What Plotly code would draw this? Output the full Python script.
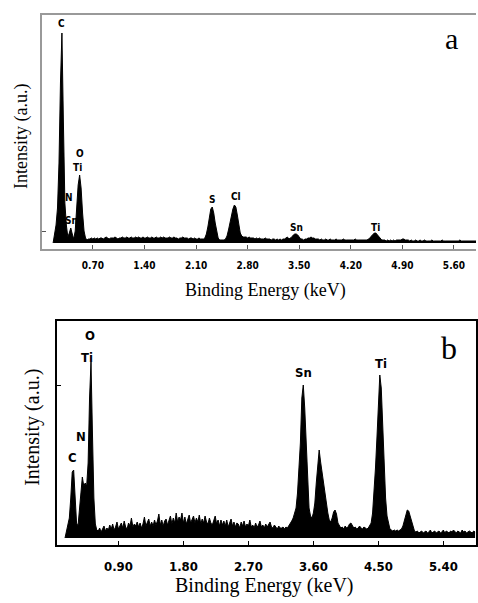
import plotly.graph_objects as go

W, H = 478, 603

# ---------------- Panel a : EDX spectrum (counts in arbitrary units) ----------------
start_a = 0.16
step_a = 0.02
counts_a = [
    0, 8, 18, 35, 80, 160, 210, 120, 40, 18,        # 0.16-0.34
    6, 10, 15, 9, 4, 12, 35, 58, 68, 55,            # 0.36-0.54
    30, 12, 5, 3, 4, 4, 5, 4, 5, 4,                 # 0.56-0.74
    5, 4, 5, 5, 4, 5, 6, 5, 4, 5,                   # 0.76-0.94
    5, 5, 6, 5, 4, 5, 5, 6, 5, 5,                   # 0.96-1.14
    6, 5, 5, 6, 5, 5, 6, 5, 6, 5,                   # 1.16-1.34
    5, 6, 5, 5, 6, 5, 5, 6, 5, 5,                   # 1.36-1.54
    6, 5, 5, 6, 5, 6, 5, 5, 5, 6,                   # 1.56-1.74
    5, 5, 6, 5, 5, 4, 5, 5, 6, 5,                   # 1.76-1.94
    5, 5, 4, 5, 5, 4, 5, 4, 4, 5,                   # 1.96-2.14
    4, 4, 4, 5, 9, 16, 26, 34, 36, 30,              # 2.16-2.34
    20, 11, 5, 3, 3, 3, 3, 4, 7, 13,                # 2.36-2.54
    20, 28, 34, 38, 36, 28, 18, 10, 7, 6,           # 2.56-2.74
    6, 6, 5, 6, 5, 5, 5, 4, 5, 4,                   # 2.76-2.94
    5, 4, 4, 4, 5, 4, 4, 4, 3, 4,                   # 2.96-3.14
    4, 3, 4, 3, 4, 3, 4, 4, 5, 6,                   # 3.16-3.34
    4, 5, 6, 8, 9, 9, 8, 6, 4, 4,                   # 3.36-3.54
    3, 4, 4, 5, 5, 6, 5, 5, 4, 4,                   # 3.56-3.74
    4, 3, 4, 3, 3, 4, 3, 3, 4, 3,                   # 3.76-3.94
    3, 3, 4, 3, 3, 3, 3, 4, 3, 3,                   # 3.96-4.14
    3, 3, 3, 3, 3, 4, 3, 3, 3, 3,                   # 4.16-4.34
    3, 3, 3, 3, 4, 5, 7, 9, 10, 10,                 # 4.36-4.54
    8, 6, 4, 3, 3, 3, 2, 3, 2, 3,                   # 4.56-4.74
    2, 3, 2, 3, 3, 3, 3, 4, 4, 3,                   # 4.76-4.94
    3, 3, 2, 3, 2, 2, 3, 2, 2, 3,                   # 4.96-5.14
    2, 2, 3, 2, 2, 2, 2, 3, 2, 2,                   # 5.16-5.34
    2, 2, 2, 2, 3, 2, 2, 2, 2, 2,                   # 5.36-5.54
    2, 2, 2, 2, 2, 2, 3, 2, 2, 2,                   # 5.56-5.74
    2, 2, 2, 2, 2, 2, 2, 2,                         # 5.76-5.90
]
energy_a = [round(start_a + step_a * i, 2) for i in range(len(counts_a))]

# ---------------- Panel b ----------------
start_b = 0.16
step_b = 0.02
counts_b = [
    0, 8, 12, 20, 40, 66, 68, 38, 15, 12,           # 0.16-0.34
    30, 50, 61, 52, 55, 52, 75, 140, 176, 105,      # 0.36-0.54
    40, 14, 8, 7, 10, 6, 9, 12, 7, 10,              # 0.56-0.74
    8, 13, 9, 14, 8, 11, 16, 9, 12, 15,             # 0.76-0.94
    10, 17, 11, 9, 15, 12, 20, 11, 14, 12,          # 0.96-1.14
    16, 11, 15, 10, 14, 21, 12, 15, 19, 12,         # 1.16-1.34
    16, 12, 18, 13, 17, 24, 13, 18, 12, 17,         # 1.36-1.54
    19, 13, 17, 22, 14, 20, 15, 25, 16, 21,         # 1.56-1.74
    18, 25, 15, 21, 14, 20, 23, 15, 19, 22,         # 1.76-1.94
    15, 20, 16, 23, 14, 19, 15, 22, 16, 14,         # 1.96-2.14
    20, 15, 13, 19, 22, 14, 18, 12, 18, 13,         # 2.16-2.34
    17, 12, 18, 11, 15, 19, 12, 16, 11, 15,         # 2.36-2.54
    14, 10, 16, 12, 17, 11, 14, 12, 18, 11,         # 2.56-2.74
    13, 10, 15, 11, 13, 17, 11, 13, 10, 14,         # 2.76-2.94
    11, 13, 16, 11, 10, 13, 11, 9, 12, 10,          # 2.96-3.14
    10, 11, 9, 11, 10, 12, 14, 17, 20, 24,          # 3.16-3.34
    30, 45, 65, 95, 140, 153, 130, 90, 55, 30,      # 3.36-3.54
    22, 20, 25, 35, 55, 70, 88, 76, 65, 55,         # 3.56-3.74
    45, 35, 25, 18, 16, 20, 26, 28, 24, 15,         # 3.76-3.94
    12, 10, 11, 9, 12, 10, 11, 14, 15, 12,          # 3.96-4.14
    10, 11, 9, 10, 12, 10, 9, 11, 10, 9,            # 4.16-4.34
    10, 12, 15, 25, 45, 70, 100, 140, 163, 150,     # 4.36-4.54
    110, 70, 40, 22, 14, 9, 8, 7, 8, 7,             # 4.56-4.74
    8, 7, 8, 9, 12, 18, 24, 28, 27, 22,             # 4.76-4.94
    15, 10, 7, 6, 7, 5, 6, 7, 5, 6,                 # 4.96-5.14
    7, 5, 6, 8, 5, 6, 7, 5, 6, 7,                   # 5.16-5.34
    5, 6, 8, 5, 7, 6, 5, 7, 6, 8,                   # 5.36-5.54
    6, 5, 7, 6, 5, 8, 6, 7, 5, 6,                   # 5.56-5.74
    7, 6, 5, 7, 6,                                  # 5.76-5.84
]
energy_b = [round(start_b + step_b * i, 2) for i in range(len(counts_b))]

tick_vals_a = [0.70, 1.40, 2.10, 2.80, 3.50, 4.20, 4.90, 5.60]
tick_text_a = ["0.70", "1.40", "2.10", "2.80", "3.50", "4.20", "4.90", "5.60"]
tick_vals_b = [0.90, 1.80, 2.70, 3.60, 4.50, 5.40]
tick_text_b = ["0.90", "1.80", "2.70", "3.60", "4.50", "5.40"]

# peak labels: (text, energy, height)
labels_a_text = ["C", "N", "Sn", "O", "Ti", "S", "Cl", "Sn", "Ti"]
labels_a_x = [0.277, 0.37, 0.41, 0.52, 0.49, 2.32, 2.64, 3.46, 4.53]
labels_a_y = [220, 46, 23, 90, 76, 44, 47, 16, 16]
labels_b_text = ["O", "Ti", "N", "C", "Sn", "Ti"]
labels_b_x = [0.50, 0.46, 0.38, 0.27, 3.46, 4.53]
labels_b_y = [203, 181, 102, 81, 166, 175]

SERIF = "Liberation Serif, Times New Roman, DejaVu Serif, serif"
NARROW = "Liberation Sans Narrow, DejaVu Sans Condensed, Liberation Sans"


def px_x(p):
    return p / W


def px_y(p):
    return 1 - p / H


def small_font(size):
    return dict(family=NARROW, size=size, color="black", weight="bold")


fig = go.Figure()
fig.add_trace(go.Scatter(x=energy_a, y=counts_a, mode="lines",
                         line=dict(color="black", width=1),
                         fill="tozeroy", fillcolor="black",
                         xaxis="x", yaxis="y", showlegend=False,
                         hoverinfo="skip"))
fig.add_trace(go.Scatter(x=energy_b, y=counts_b, mode="lines",
                         line=dict(color="black", width=1),
                         fill="tozeroy", fillcolor="black",
                         xaxis="x2", yaxis="y2", showlegend=False,
                         hoverinfo="skip"))

grey = "#999999"
fig.update_layout(
    width=W, height=H,
    margin=dict(l=0, r=0, t=0, b=0),
    paper_bgcolor="white", plot_bgcolor="white",
    showlegend=False,
    xaxis=dict(domain=[px_x(41.7), 1.0], anchor="y",
               range=[0.003, 5.899], showgrid=False, zeroline=False,
               showline=True, linecolor=grey, linewidth=2, mirror=True,
               ticks="inside", ticklen=4, tickcolor="#555", tickwidth=1,
               tickvals=tick_vals_a, ticktext=tick_text_a,
               ticklabelstandoff=6,
               tickfont=small_font(10)),
    yaxis=dict(domain=[px_y(249), px_y(15)], anchor="x",
               range=[-6, 228], showgrid=False, zeroline=False,
               showline=True, linecolor=grey, linewidth=2, mirror=False,
               ticks="inside", ticklen=4, tickcolor="#555",
               tickvals=[12], showticklabels=False),
    xaxis2=dict(domain=[px_x(57.3), px_x(477.7)], anchor="y2",
                range=[0.050, 5.848], showgrid=False, zeroline=False,
                showline=True, linecolor="black", linewidth=2, mirror=True,
                ticks="inside", ticklen=4, tickcolor="black", tickwidth=1,
                tickvals=tick_vals_b, ticktext=tick_text_b,
                ticklabelstandoff=8,
                tickfont=small_font(13)),
    yaxis2=dict(domain=[px_y(545), px_y(321)], anchor="x2",
                range=[-7, 217], showgrid=False, zeroline=False,
                showline=True, linecolor="black", linewidth=2, mirror=True,
                ticks="inside", ticklen=4, tickcolor="black",
                tickvals=[153], showticklabels=False),
)

ann = []
for t, x, y in zip(labels_a_text, labels_a_x, labels_a_y):
    ann.append(dict(text=t, x=x, y=y, xref="x", yref="y", showarrow=False,
                    font=small_font(10), xanchor="center", yanchor="middle"))
for t, x, y in zip(labels_b_text, labels_b_x, labels_b_y):
    ann.append(dict(text=t, x=x, y=y, xref="x2", yref="y2", showarrow=False,
                    font=small_font(13), xanchor="center", yanchor="middle"))

# axis titles and panel letters
ann += [
    dict(text="Binding Energy (keV)", x=px_x(267), y=px_y(290), xref="paper", yref="paper",
         showarrow=False, font=dict(family=SERIF, size=18, color="black"),
         xanchor="center", yanchor="middle"),
    dict(text="Intensity (a.u.)", x=px_x(22), y=px_y(136), xref="paper", yref="paper",
         showarrow=False, textangle=-90, font=dict(family=SERIF, size=18, color="black"),
         xanchor="center", yanchor="middle"),
    dict(text="Binding Energy (keV)", x=px_x(266), y=px_y(585), xref="paper", yref="paper",
         showarrow=False, font=dict(family=SERIF, size=20, color="black"),
         xanchor="center", yanchor="middle"),
    dict(text="Intensity (a.u.)", x=px_x(32), y=px_y(427), xref="paper", yref="paper",
         showarrow=False, textangle=-90, font=dict(family=SERIF, size=20, color="black"),
         xanchor="center", yanchor="middle"),
    dict(text="a", x=px_x(453), y=px_y(38), xref="paper", yref="paper",
         showarrow=False, font=dict(family=SERIF, size=30, color="black"),
         xanchor="center", yanchor="middle"),
    dict(text="b", x=px_x(451), y=px_y(348), xref="paper", yref="paper",
         showarrow=False, font=dict(family=SERIF, size=32, color="black"),
         xanchor="center", yanchor="middle"),
]
fig.update_layout(annotations=ann)

fig.write_html("out.html",
               config={"displayModeBar": False},
               post_script="document.body.style.margin='0';document.body.style.overflow='hidden';")
